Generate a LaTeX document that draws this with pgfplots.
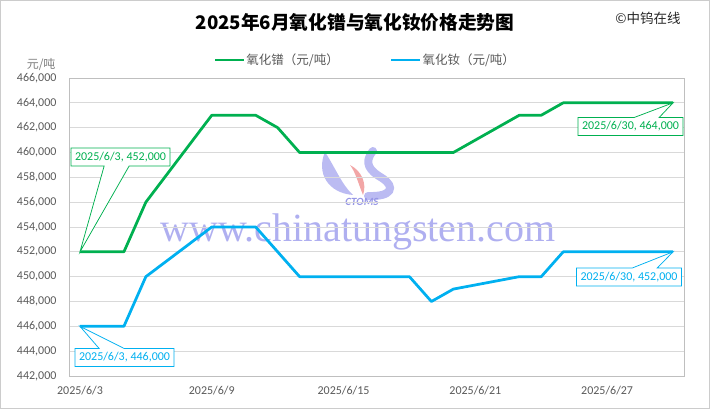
\documentclass[border=0pt]{standalone}
\usepackage{fontspec}
\setmainfont{Carlito}
\newfontfamily\cjk{Noto Sans CJK SC}
\newfontfamily\wm{Liberation Serif}
\usepackage{pgfplots}
\pgfplotsset{compat=1.18}
\usetikzlibrary{shapes.callouts}
\definecolor{prgreen}{RGB}{0,176,80}
\definecolor{ndblue}{RGB}{0,176,240}
\definecolor{ticktext}{RGB}{89,89,89}
\definecolor{wmcol}{RGB}{175,175,240}
\definecolor{wmdark}{RGB}{150,150,230}
\definecolor{wmred}{RGB}{240,150,150}
\tikzset{co/.style={rectangle callout, draw=#1, fill=white, text=#1, line width=0.75bp,
  font=\fontsize{12bp}{14bp}\selectfont, inner xsep=4bp, inner ysep=3bp,
  minimum height=18bp, callout pointer width=25bp}}
\begin{document}
\begin{tikzpicture}
\useasboundingbox (0,0) rectangle (710bp,409bp);
\draw[black!20, line width=1bp] (0.5bp,0.5bp) rectangle (709.5bp,408.5bp);
% title and source
\node[font=\cjk\bfseries\fontsize{18.7bp}{22bp}\selectfont] at (355bp,387bp) {2025年6月氧化镨与氧化钕价格走势图};
\node[font=\cjk\fontsize{13.5bp}{16bp}\selectfont, text=black!85] at (648bp,391bp) {©中钨在线};
\node[font=\cjk\fontsize{12bp}{14bp}\selectfont, text=black!50, anchor=east] at (59bp,344bp) {元/吨};
% watermark
\node[font=\wm\fontsize{40bp}{44bp}\selectfont, text=wmcol, anchor=base] at (358bp,167bp) {www.chinatungsten.com};
\fill[wmcol, opacity=0.85] (325bp,257bp) .. controls (316bp,236bp) and (328bp,216bp) .. (353bp,214bp)
  .. controls (342bp,224bp) and (336bp,240bp) .. cycle;
\fill[wmred, opacity=0.85] (350bp,244bp) .. controls (362bp,238bp) and (367bp,225bp) .. (363bp,214bp)
  .. controls (358bp,226bp) and (356bp,236bp) .. cycle;
\draw[wmcol, opacity=0.85, line width=8bp, line cap=round] (373bp,258bp) .. controls (363bp,246bp) and (370bp,238bp) .. (382bp,231bp)
  .. controls (396bp,222bp) and (392bp,212bp) .. (368bp,213bp);
\node[font=\bfseries\itshape\fontsize{11bp}{12bp}\selectfont, text=wmdark] at (362bp,207bp) {CTOMS};
\begin{axis}[
    at={(69bp,33bp)}, anchor=south west,
    scale only axis, width=615bp, height=298bp,
    xmin=2.5, xmax=30.5,
    ymin=442000, ymax=466000,
    ytick={442000,444000,...,466000},
    xtick={3,9,15,21,27},
    xticklabels={2025/6/3,2025/6/9,2025/6/15,2025/6/21,2025/6/27},
    scaled y ticks=false,
    /pgf/number format/.cd, fixed, 1000 sep={,}, assume math mode=true,
    /pgfplots/.cd,
    major tick length=0pt,
    tick label style={font=\fontsize{12bp}{14bp}\selectfont, text=ticktext},
    yticklabel style={xshift=-9bp},
    xticklabel style={yshift=-7bp},
    ymajorgrids=true,
    grid style={black!15, line width=0.75bp},
    axis line style={black!25, line width=0.75bp},
    clip=false,
    legend style={at={(0.481,1.06)}, anchor=center, draw=none, fill=none,
      legend columns=2, font=\cjk\fontsize{12.5bp}{14bp}\selectfont, text=ticktext,
      /tikz/every even column/.append style={column sep=50bp},
      nodes={inner sep=1bp}},
    legend image code/.code={\draw[#1, line width=2.75bp] (0bp,0bp) -- (29bp,0bp);},
]
\addplot[prgreen, line width=2.75bp, line join=round] coordinates {
 (3,452000)(4,452000)(5,452000)(6,456000)(9,463000)(10,463000)(11,463000)(12,462000)
 (13,460000)(16,460000)(17,460000)(18,460000)(19,460000)(20,460000)(23,463000)(24,463000)
 (25,464000)(26,464000)(27,464000)(30,464000)};
\addlegendentry{氧化镨（元/吨）}
\addplot[ndblue, line width=2.75bp, line join=round] coordinates {
 (3,446000)(4,446000)(5,446000)(6,450000)(9,454000)(10,454000)(11,454000)(12,452000)
 (13,450000)(16,450000)(17,450000)(18,450000)(19,448000)(20,449000)(23,450000)(24,450000)
 (25,452000)(26,452000)(27,452000)(30,452000)};
\addlegendentry{氧化钕（元/吨）}
\node[co=prgreen, callout absolute pointer={(axis cs:3,452000)}] at (axis cs:4.845,459640) {2025/6/3, 452,000};
\node[co=ndblue, callout absolute pointer={(axis cs:3,446000)}] at (axis cs:5.027,443490) {2025/6/3, 446,000};
\node[co=prgreen, callout absolute pointer={(axis cs:30,464000)}] at (axis cs:28.065,462094) {2025/6/30, 464,000};
\node[co=ndblue, callout absolute pointer={(axis cs:30,452000)}] at (axis cs:27.997,449973) {2025/6/30, 452,000};
\end{axis}
\end{tikzpicture}
\end{document}
